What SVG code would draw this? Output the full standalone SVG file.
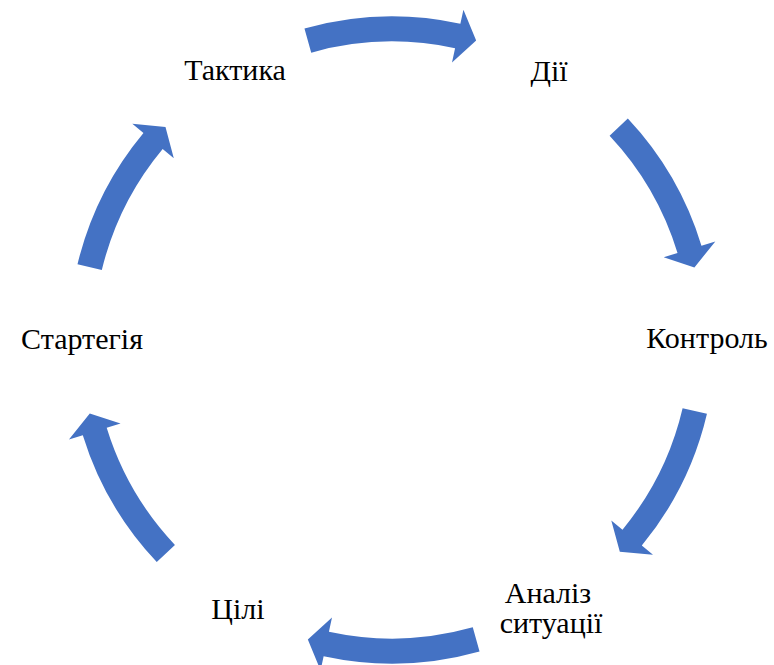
<svg xmlns="http://www.w3.org/2000/svg" xmlns:xlink="http://www.w3.org/1999/xlink" width="774" height="665" viewBox="0 0 774 665">
  <style>
    .arr { fill: #4472C4; }
    .lbl { font-family: "Liberation Serif", "Times New Roman", Tinos, "Noto Serif", "DejaVu Serif", FreeSerif, serif; font-size: 30px; fill: #000; text-anchor: middle; }
  </style>
  <defs>
    <path id="arrowA" class="arr" d="M311.43,-87.54 A323.5,323.5 0 0 1 316.20,68.36 L330.37,71.43 L299.40,84.16 L277.59,60.01 L291.76,63.08 A298.5,298.5 0 0 0 287.36,-80.77 Z"/>
    <path id="arrowB" class="arr" d="M312.70,-82.91 A323.5,323.5 0 0 1 317.12,63.94 L331.33,66.81 L300.61,79.71 L278.40,56.14 L292.61,59.00 A298.5,298.5 0 0 0 288.53,-76.50 Z"/>
  </defs>
  <rect width="774" height="665" fill="#fff"/>
  <g id="connectors">
    <use xlink:href="#arrowA" transform="translate(392,340) rotate(-90)"/>
    <use xlink:href="#arrowB" transform="translate(392,340) rotate(-28.35)"/>
    <use xlink:href="#arrowB" transform="translate(392,340) rotate(28.05)"/>
    <use xlink:href="#arrowA" transform="translate(392,340) rotate(90)"/>
    <use xlink:href="#arrowB" transform="translate(392,340) rotate(151.5)"/>
    <use xlink:href="#arrowB" transform="translate(392,340) rotate(208.4)"/>
  </g>
  <g id="node-taktyka"><text class="lbl" x="235" y="80">Тактика</text></g>
  <g id="node-dii"><text class="lbl" x="549" y="81">Дії</text></g>
  <g id="node-kontrol"><text class="lbl" x="707" y="348">Контроль</text></g>
  <g id="node-analiz"><text class="lbl" x="548" y="603">Аналіз</text><text class="lbl" x="551" y="633">ситуації</text></g>
  <g id="node-tsili"><text class="lbl" x="238" y="619">Цілі</text></g>
  <g id="node-strategiya"><text class="lbl" x="82" y="349">Стартегія</text></g>
</svg>
